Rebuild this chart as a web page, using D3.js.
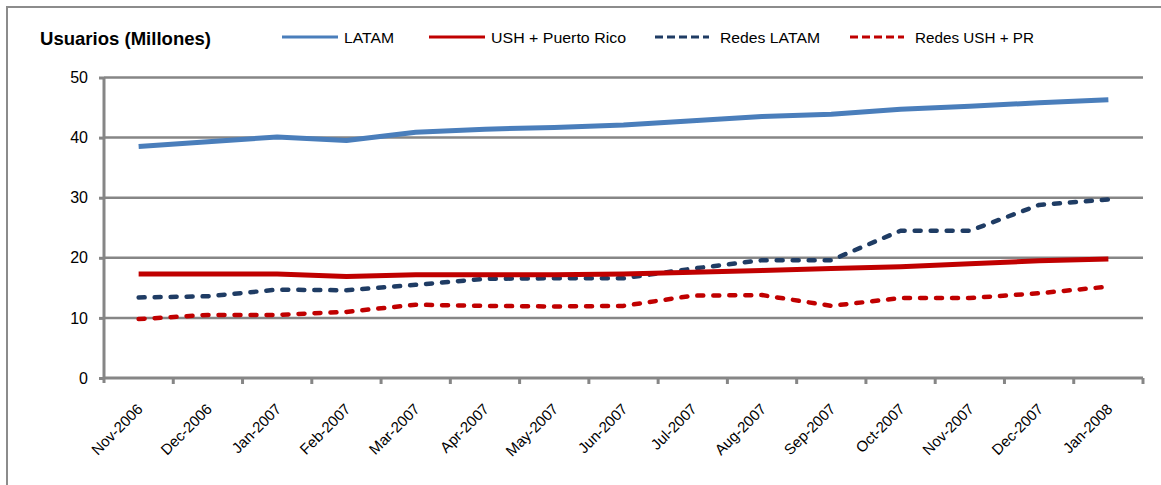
<!DOCTYPE html>
<html>
<head>
<meta charset="utf-8">
<script src="https://cdn.jsdelivr.net/npm/d3@7"></script>
<style>
  body { margin: 0; background: #fff; }
  text { font-family: "Liberation Sans", Arial, sans-serif; fill: #000; }
</style>
</head>
<body>
<script>
//Chart size and plot area
var W = 1161;
var H = 485;
var Left = 104;
var Right = 1143;
var Top = 77.5;
var Bottom = 378;

//Data
var months = ["Nov-2006", "Dec-2006", "Jan-2007", "Feb-2007", "Mar-2007", "Apr-2007",
  "May-2007", "Jun-2007", "Jul-2007", "Aug-2007", "Sep-2007", "Oct-2007",
  "Nov-2007", "Dec-2007", "Jan-2008"];
var latam = [38.5, 39.3, 40.1, 39.5, 40.9, 41.4, 41.7, 42.1, 42.8, 43.5, 43.9, 44.7, 45.2, 45.8, 46.3];
var ushPR = [17.3, 17.3, 17.3, 16.9, 17.2, 17.2, 17.2, 17.3, 17.6, 17.9, 18.2, 18.5, 19.0, 19.5, 19.8];
var redesLatam = [13.4, 13.6, 14.7, 14.6, 15.5, 16.5, 16.6, 16.6, 18.2, 19.6, 19.6, 24.5, 24.5, 28.8, 29.7];
var redesUshPR = [9.8, 10.5, 10.5, 11.0, 12.2, 12.0, 11.9, 12.0, 13.7, 13.8, 12.0, 13.3, 13.3, 14.1, 15.2];
var yTicks = [0, 10, 20, 30, 40, 50];

var seriesNames = ["LATAM", "USH + Puerto Rico", "Redes LATAM", "Redes USH + PR"];
var seriesData = [latam, ushPR, redesLatam, redesUshPR];
var colors = ["#4a7ebb", "#c00000", "#1f3c64", "#c00000"];
var dashes = [null, null, "6,10", "6,10"];
var widths = [5, 5, 4.5, 4.5];

function main() {
  var svg = d3.select("body")
    .append("svg")
    .attr("width", W)
    .attr("height", H);

  //outer frame, runs off the right and bottom edges
  svg.append("rect")
    .attr("x", 7).attr("y", 7)
    .attr("width", W + 20).attr("height", H + 20)
    .attr("fill", "none")
    .attr("stroke", "#8c8c8c")
    .attr("stroke-width", 2);

  var xScale = d3.scaleBand()
    .domain(months)
    .range([Left, Right]);

  var yScale = d3.scaleLinear()
    .domain([0, 50])
    .range([Bottom, Top]);

  //gridlines
  svg.selectAll(".grid")
    .data(yTicks.slice(1))
    .enter()
    .append("line")
    .attr("class", "grid")
    .attr("x1", Left).attr("x2", Right)
    .attr("y1", function(d) { return yScale(d); })
    .attr("y2", function(d) { return yScale(d); })
    .attr("stroke", "#868686")
    .attr("stroke-width", 2.5);

  //y axis
  var yAxis = svg.append("g")
    .attr("transform", "translate(" + Left + ",0)")
    .call(d3.axisLeft(yScale).tickValues(yTicks).tickSize(5).tickPadding(11));
  yAxis.select(".domain").attr("stroke", "#868686").attr("stroke-width", 3)
    .attr("d", "M0," + (Bottom + 5) + "V" + Top);
  yAxis.selectAll(".tick line").attr("stroke", "#868686").attr("stroke-width", 3);
  yAxis.selectAll(".tick text").attr("font-size", "16px").attr("fill", "#000")
    .attr("font-family", "'Liberation Sans', Arial, sans-serif");

  //x axis, ticks between categories
  var xAxis = svg.append("g")
    .attr("transform", "translate(0," + Bottom + ")");
  xAxis.append("line")
    .attr("x1", Left).attr("x2", Right)
    .attr("stroke", "#868686").attr("stroke-width", 3);
  xAxis.selectAll(".xtick")
    .data(months)
    .enter()
    .append("line")
    .attr("class", "xtick")
    .attr("x1", function(d) { return xScale(d) + xScale.bandwidth(); })
    .attr("x2", function(d) { return xScale(d) + xScale.bandwidth(); })
    .attr("y1", 0).attr("y2", 6)
    .attr("stroke", "#868686").attr("stroke-width", 3);
  xAxis.selectAll(".xlabel")
    .data(months)
    .enter()
    .append("text")
    .attr("class", "xlabel")
    .attr("text-anchor", "end")
    .attr("font-size", "15px")
    .attr("transform", function(d) {
      return "translate(" + (xScale(d) + xScale.bandwidth() / 2 + 5) + ",32) rotate(-45)";
    })
    .text(function(d) { return d; });

  //lines
  var line = d3.line()
    .x(function(d, i) { return xScale(months[i]) + xScale.bandwidth() / 2; })
    .y(function(d) { return yScale(d); });

  //draw the dashed ones first so the solid ones sit on top
  var order = [2, 3, 1, 0];
  order.forEach(function(k) {
    svg.append("path")
      .datum(seriesData[k])
      .attr("d", line)
      .attr("fill", "none")
      .attr("stroke", colors[k])
      .attr("stroke-width", widths[k])
      .attr("stroke-linejoin", "round")
      .attr("stroke-linecap", dashes[k] ? "round" : "butt")
      .attr("stroke-dasharray", dashes[k]);
  });

  //title
  svg.append("text")
    .attr("x", 40).attr("y", 45)
    .attr("font-size", "19px")
    .attr("font-weight", "bold")
    .attr("textLength", 171)
    .attr("lengthAdjust", "spacingAndGlyphs")
    .text("Usuarios (Millones)");

  //legend
  var legX = [282, 429, 655, 850];
  var legTextW = [50, 135, 100, 119];
  var legend = svg.selectAll(".legend")
    .data(seriesNames)
    .enter()
    .append("g")
    .attr("class", "legend")
    .attr("transform", function(d, i) { return "translate(" + legX[i] + ",37)"; });
  legend.append("line")
    .attr("x1", 0).attr("x2", function(d, i) { return dashes[i] ? 54 : 56; })
    .attr("y1", 0).attr("y2", 0)
    .attr("stroke", function(d, i) { return colors[i]; })
    .attr("stroke-width", 3)
    .attr("stroke-dasharray", function(d, i) { return dashes[i] ? "8,4" : null; });
  legend.append("text")
    .attr("x", function(d, i) { return dashes[i] ? 65 : 62; })
    .attr("y", 5.5)
    .attr("font-size", "15px")
    .attr("textLength", function(d, i) { return legTextW[i]; })
    .attr("lengthAdjust", "spacingAndGlyphs")
    .text(function(d) { return d; });
}

main();
</script>
</body>
</html>
